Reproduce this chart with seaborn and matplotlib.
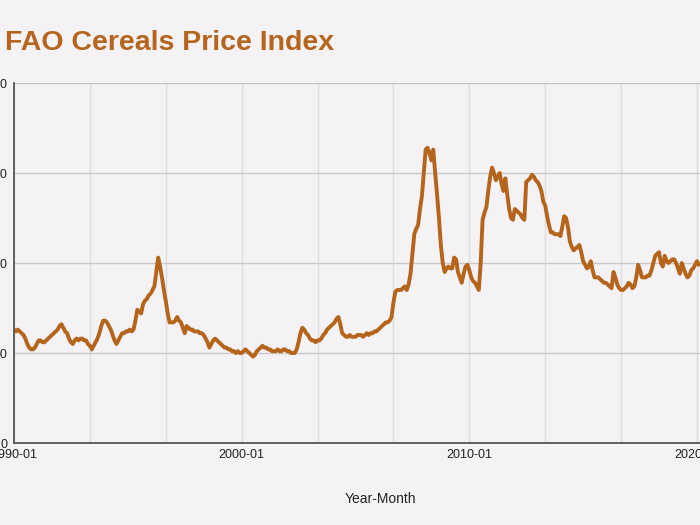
import numpy as np
import pandas as pd
import matplotlib
matplotlib.use("Agg")
import matplotlib.pyplot as plt
import seaborn as sns

# ---------------- data ----------------
start_year = 1990
v1990 = [63, 62, 63, 62, 61, 60, 58, 55, 53, 52, 52, 53]
v1991 = [55, 57, 57, 56, 56, 57, 58, 59, 60, 61, 62, 63]
v1992 = [65, 66, 64, 62, 61, 58, 56, 55, 57, 58, 57, 58]
v1993 = [58, 57, 57, 55, 54, 52, 54, 56, 58, 61, 65, 68]
v1994 = [68, 67, 65, 63, 60, 57, 55, 57, 59, 61, 61, 62]
v1995 = [62, 63, 62, 63, 68, 74, 73, 72, 77, 79, 80, 82]
v1996 = [83, 85, 87, 95, 103, 98, 92, 85, 79, 72, 67, 67]
v1997 = [67, 68, 70, 68, 67, 64, 61, 65, 64, 63, 63, 62]
v1998 = [62, 62, 61, 61, 60, 58, 56, 53, 55, 57, 58, 57]
v1999 = [56, 55, 54, 53, 53, 52, 52, 51, 51, 50, 51, 50]
v2000 = [50, 51, 52, 51, 50, 49, 48, 49, 51, 52, 53, 54]
v2001 = [53, 53, 52, 52, 51, 51, 51, 52, 51, 51, 52, 52]
v2002 = [51, 51, 50, 50, 50, 52, 56, 61, 64, 63, 61, 60]
v2003 = [58, 57, 57, 56, 57, 57, 58, 60, 61, 63, 64, 65]
v2004 = [66, 67, 69, 70, 66, 61, 60, 59, 59, 60, 59, 59]
v2005 = [59, 60, 60, 60, 59, 60, 61, 60, 61, 61, 62, 62]
v2006 = [63, 64, 65, 66, 67, 67, 68, 70, 78, 84, 85, 85]
v2007 = [85, 86, 87, 85, 88, 94, 105, 116, 119, 121, 130, 137]
v2008 = [150, 163, 164, 161, 157, 163, 150, 138, 125, 110, 100, 95]
v2009 = [97, 98, 97, 97, 103, 102, 95, 92, 89, 94, 98, 99]
v2010 = [96, 92, 90, 89, 87, 85, 100, 124, 128, 131, 140, 148]
v2011 = [153, 150, 146, 148, 150, 144, 140, 147, 138, 130, 125, 124]
v2012 = [130, 129, 128, 127, 125, 124, 145, 146, 147, 149, 148, 146]
v2013 = [145, 143, 140, 134, 132, 126, 121, 117, 117, 116, 116, 116]
v2014 = [115, 120, 126, 125, 120, 112, 109, 107, 108, 109, 110, 106]
v2015 = [101, 99, 97, 98, 101, 96, 92, 92, 92, 91, 90, 89]
v2016 = [89, 88, 87, 86, 95, 92, 88, 86, 85, 85, 86, 87]
v2017 = [89, 88, 86, 87, 92, 99, 96, 92, 92, 92, 93, 93]
v2018 = [96, 100, 104, 105, 106, 100, 98, 104, 101, 100, 101, 102]
v2019 = [102, 100, 97, 94, 100, 97, 94, 92, 93, 96, 97, 99]
v2020 = [101, 99]

y_ticks = [0, 50, 100, 150, 200]
x_tick_labels = ["1990-01", "2000-01", "2010-01", "2020-01"]

values = (v1990 + v1991 + v1992 + v1993 + v1994 + v1995 + v1996 + v1997 + v1998
          + v1999 + v2000 + v2001 + v2002 + v2003 + v2004 + v2005 + v2006 + v2007
          + v2008 + v2009 + v2010 + v2011 + v2012 + v2013 + v2014 + v2015 + v2016
          + v2017 + v2018 + v2019 + v2020)
months = [f"{start_year + i // 12}-{i % 12 + 1:02d}" for i in range(len(values))]
df = pd.DataFrame({"idx": np.arange(len(values)), "month": months, "index": values})

# ---------------- style ----------------
bg = "#f4f2f5"
sns.set_style("white")
plt.rcParams["font.family"] = ["Liberation Sans Narrow", "Liberation Sans", "DejaVu Sans"]

fig = plt.figure(figsize=(7, 5.25), dpi=100, facecolor=bg)
ax = fig.add_axes([14 / 700, 82 / 525, 1 - 14 / 700, 360 / 525])
ax.set_facecolor(bg)

sns.lineplot(data=df, x="idx", y="index", ax=ax, color="#b5641b", linewidth=2.8)

ax.set_xlim(0, 361.6)
ax.set_ylim(0, 200)
ax.set_yticks(y_ticks)
ax.set_yticklabels([str(t) for t in y_ticks], fontsize=9, color="#222222")
label_pos = [months.index(l) if l in months else 360 for l in x_tick_labels]
ax.set_xticks(label_pos)
ax.set_xticklabels(x_tick_labels, fontsize=9, color="#222222")
ax.set_xticks(np.arange(40, 362, 40), minor=True)
ax.tick_params(axis="both", which="both", length=0)
ax.tick_params(axis="y", pad=5)
ax.tick_params(axis="x", pad=4)

ax.grid(True, axis="y", color="#c9c9c9", linewidth=1)
ax.grid(True, axis="x", which="both", color="#dcdcdc", linewidth=1)
ax.set_axisbelow(True)

for s in ["top", "right"]:
    ax.spines[s].set_visible(False)
for s in ["left", "bottom"]:
    ax.spines[s].set_color("#555555")
    ax.spines[s].set_linewidth(1.3)

ax.set_ylabel("")
ax.set_xlabel("Year-Month", fontsize=10, color="#222222")
ax.xaxis.set_label_coords((380 - 14) / 686, -0.135)

fig.text(5 / 700, 1 - 43 / 525, "FAO Cereals Price Index", fontsize=20.5, fontweight="bold",
         color="#b5651d", va="center", ha="left", family=["Liberation Sans", "DejaVu Sans"])

fig.savefig("out.png", dpi=100, facecolor=bg)
